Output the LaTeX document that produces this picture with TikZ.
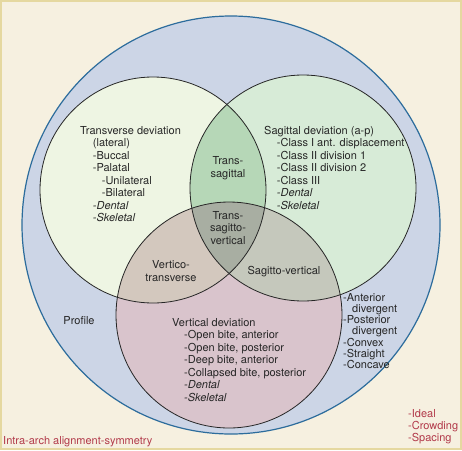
\documentclass[tikz,border=0pt]{standalone}
\usepackage{fontspec}
\setmainfont{TeX Gyre Heros}
\usepackage{tikz}
\usetikzlibrary{positioning}
\definecolor{bgcream}{HTML}{F6F0E0}
\definecolor{frametan}{HTML}{E5D8A0}
\definecolor{outerblue}{HTML}{CCD5E6}
\definecolor{outerline}{HTML}{2C6C9C}
\definecolor{transfill}{HTML}{EEF5E3}
\definecolor{sagfill}{HTML}{D7EBD7}
\definecolor{vertfill}{HTML}{D9C4CC}
\definecolor{tsfill}{HTML}{B6D7B7}
\definecolor{vtfill}{HTML}{D3C8BE}
\definecolor{svfill}{HTML}{C5C8BC}
\definecolor{tsvfill}{HTML}{A8AEA2}
\definecolor{redtext}{HTML}{B23A4A}

\begin{document}
\begin{tikzpicture}[x=1pt,y=-1pt,
  txt/.style={font=\fontsize{11}{12.5}\selectfont,inner sep=0pt,align=left,text=black!85},
  mid/.style={txt,align=center},
  redtxt/.style={txt,text=redtext},
  ring/.style={draw=black!85,line width=0.8pt}]
\useasboundingbox (0,0) rectangle (462,450);
\draw[frametan,line width=2.5pt,fill=bgcream] (1,1) rectangle (461,449);
\coordinate (O) at (231,225);
\coordinate (T) at (153,190);
\coordinate (S) at (303,188);
\coordinate (V) at (229,315);
\draw[outerline,fill=outerblue,line width=1.2pt] (O) circle[radius=209];
\fill[transfill] (T) circle[radius=113];
\fill[sagfill] (S) circle[radius=113];
\fill[vertfill] (V) circle[radius=113];
\begin{scope}
\clip (T) circle[radius=113];
\fill[tsfill] (S) circle[radius=113];
\fill[vtfill] (V) circle[radius=113];
\end{scope}
\begin{scope}
\clip (S) circle[radius=113];
\fill[svfill] (V) circle[radius=113];
\clip (T) circle[radius=113];
\fill[tsvfill] (V) circle[radius=113];
\end{scope}
\draw[ring] (T) circle[radius=113];
\draw[ring] (S) circle[radius=113];
\draw[ring] (V) circle[radius=113];
% texts
\node[txt,anchor=north west] (transverse) at (80,126) {Transverse deviation\\
\hspace*{12.7pt}(lateral)\\
\hspace*{12.7pt}-Buccal\\
\hspace*{12.7pt}-Palatal\\
\hspace*{21.7pt}-Unilateral\\
\hspace*{21.7pt}-Bilateral\\
\hspace*{12.7pt}\textit{-Dental}\\
\hspace*{12.7pt}\textit{-Skeletal}};
\node[txt,anchor=north west] (sagittal) at (264,126) {Sagittal deviation (a-p)\\
\hspace*{12.7pt}-Class I ant. displacement\\
\hspace*{12.7pt}-Class II division 1\\
\hspace*{12.7pt}-Class II division 2\\
\hspace*{12.7pt}-Class III\\
\hspace*{12.7pt}\textit{-Dental}\\
\hspace*{12.7pt}\textit{-Skeletal}};
\node[txt,anchor=north west] (vertical) at (172,318) {Vertical deviation\\
\hspace*{12pt}-Open bite, anterior\\
\hspace*{12pt}-Open bite, posterior\\
\hspace*{12pt}-Deep bite, anterior\\
\hspace*{12pt}-Collapsed bite, posterior\\
\hspace*{12pt}\textit{-Dental}\\
\hspace*{12pt}\textit{-Skeletal}};
\node[mid] (ts) at (228,168) {Trans-\\sagittal};
\node[mid] (tsv) at (228,228) {Trans-\\sagitto-\\vertical};
\node[mid] (vt) at (171,271) {Vertico-\\transverse};
\node[mid] (sv) at (284,272) {Sagitto-vertical};
\node[txt] (profile) at (79,321) {Profile};
\node[txt,anchor=north west,font=\fontsize{11}{11.2}\selectfont] (profilelist) at (343,293) {-Anterior\\
\hspace*{9pt}divergent\\
-Posterior\\
\hspace*{9pt}divergent\\
-Convex\\
-Straight\\
-Concave};
\node[redtxt,anchor=base west] (intra) at (3,444) {Intra-arch alignment-symmetry};
\node[redtxt,anchor=north west,font=\fontsize{11}{12.3}\selectfont] (intralist) at (408,409) {-Ideal\\-Crowding\\-Spacing};
\end{tikzpicture}
\end{document}
